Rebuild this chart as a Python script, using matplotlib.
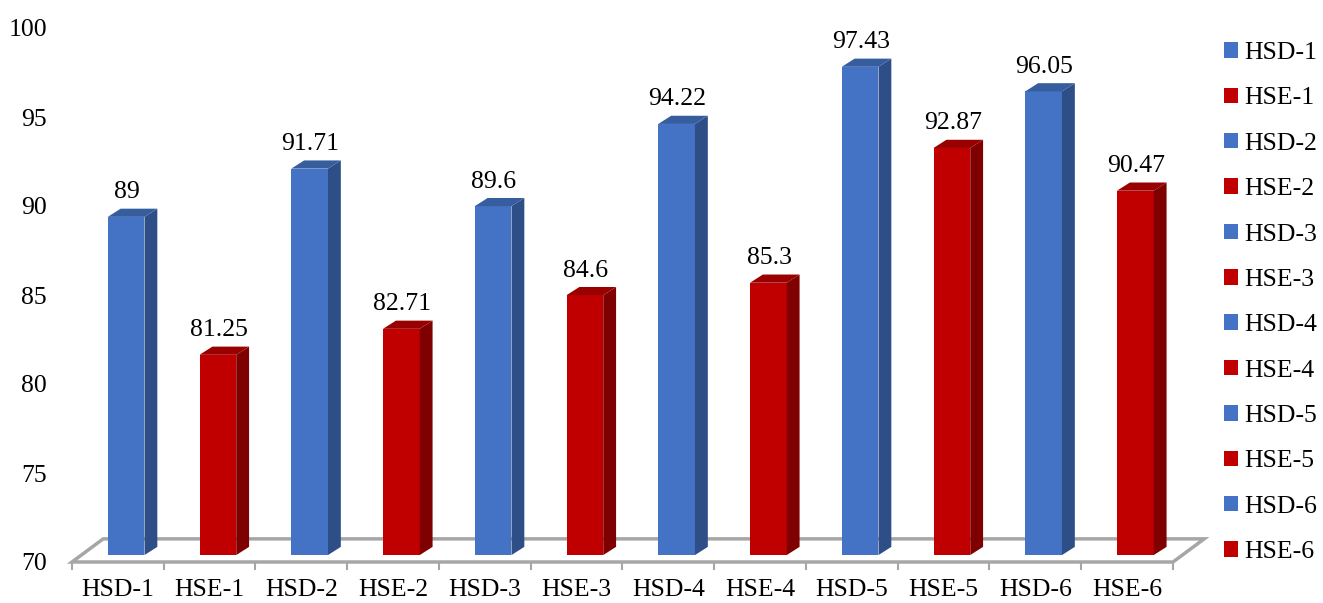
import matplotlib
matplotlib.use("Agg")
import matplotlib.pyplot as plt
from matplotlib.patches import Polygon, Patch

plt.rcParams['font.family'] = ['Liberation Serif', 'DejaVu Serif']

# data
labels = ['HSD-1', 'HSE-1', 'HSD-2', 'HSE-2', 'HSD-3', 'HSE-3',
          'HSD-4', 'HSE-4', 'HSD-5', 'HSE-5', 'HSD-6', 'HSE-6']
values = [89, 81.25, 91.71, 82.71, 89.6, 84.6,
          94.22, 85.3, 97.43, 92.87, 96.05, 90.47]
y_ticks = [70, 75, 80, 85, 90, 95, 100]

# face colours (front, side, top)
blue = ('#4472C4', '#2E4E88', '#365E9E')
red = ('#C00000', '#7F0000', '#990000')

base = 70
floor_dx, floor_dy = 0.34, 1.3     # depth of the floor in data units
bar_x0, bar_w = 0.39, 0.40         # front face inside each category
bar_off = 0.39                      # front face sits a bit behind floor edge
side_dx, side_dy = 0.14, 0.46      # bar depth

fig = plt.figure(figsize=(13.23, 6.03), dpi=100)
ax = fig.add_axes([72 / 1323, 1 - 562 / 603, (1173 - 72) / 1323, (562 - 28) / 603])
n = len(values)
ax.set_xlim(0, n)
ax.set_ylim(base, 100)

# floor
floor = Polygon([(0, base), (n, base), (n + floor_dx, base + floor_dy),
                 (floor_dx, base + floor_dy)], closed=True,
                facecolor='white', edgecolor='#A6A6A6', lw=2.5,
                clip_on=False, zorder=1)
ax.add_patch(floor)

# bars with a fake 3d look
for i, v in enumerate(values):
    front, side, top = blue if labels[i].startswith('HSD') else red
    x0 = i + bar_x0
    x1 = x0 + bar_w
    y0 = base + bar_off
    y1 = v + bar_off
    ax.add_patch(Polygon([(x0, y0), (x1, y0), (x1, y1), (x0, y1)],
                         facecolor=front, edgecolor='none', zorder=3, clip_on=False))
    ax.add_patch(Polygon([(x1, y0), (x1 + side_dx, y0 + side_dy),
                          (x1 + side_dx, y1 + side_dy), (x1, y1)],
                         facecolor=side, edgecolor='none', zorder=3, clip_on=False))
    ax.add_patch(Polygon([(x0, y1), (x1, y1), (x1 + side_dx, y1 + side_dy),
                          (x0 + side_dx, y1 + side_dy)],
                         facecolor=top, edgecolor='none', zorder=3, clip_on=False))
    ax.text(x0 + bar_w / 2 + 0.01, y1 + side_dy + 0.3, f'{v:g}',
            ha='center', va='bottom', fontsize=18.5, zorder=4)

for s in ax.spines.values():
    s.set_visible(False)

ax.set_xticks(range(n + 1))
ax.set_xticklabels([])
ax.set_xticks([i + 0.5 for i in range(n)], minor=True)
ax.set_xticklabels(labels, minor=True, fontsize=18.5)
ax.tick_params(axis='x', which='major', length=6, width=1.5, color='#A6A6A6', direction='out')
ax.tick_params(axis='x', which='minor', length=0, pad=12)

ax.set_yticks(y_ticks)
ax.set_yticklabels([str(t) for t in y_ticks], fontsize=18.5)
ax.tick_params(axis='y', length=0, pad=18)

handles = [Patch(facecolor=(blue if l.startswith('HSD') else red)[0], label=l) for l in labels]
fig.legend(handles=handles, loc='upper left', bbox_to_anchor=(1224 / 1323, 1 - 42 / 603),
           frameon=False, fontsize=18.5, handlelength=0.55, handleheight=0.55,
           handletextpad=0.25, labelspacing=0.91, borderaxespad=0, borderpad=0)

fig.savefig('out.png', dpi=100)
